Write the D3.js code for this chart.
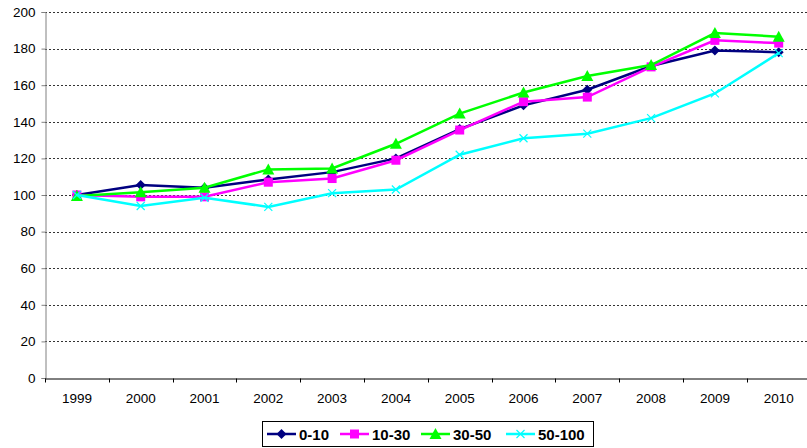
<!DOCTYPE html>
<html>
<head>
<meta charset="utf-8">
<script src="https://cdn.jsdelivr.net/npm/d3@7"></script>
<style>
  body { margin: 0; background: #fff; overflow: hidden; }
  svg { font-family: "Liberation Sans", Arial, sans-serif; display: block; }
</style>
</head>
<body>
<div id="chart"></div>
<script>
const years = ["1999","2000","2001","2002","2003","2004","2005","2006","2007","2008","2009","2010"];
const s0_10   = [100, 105.5, 104, 108.5, 112.5, 120, 136, 149, 157.5, 170.5, 179, 178];
const s10_30  = [100, 99, 99, 107, 109, 119, 135.5, 151, 153.5, 170, 184.5, 183];
const s30_50  = [99.5, 101.5, 104, 114, 114.5, 128, 144.5, 156, 165, 171, 188.5, 186.5];
const s50_100 = [100, 94, 98.5, 93.5, 101, 103, 122, 131, 133.5, 142, 155.5, 177.5];
const yTicks = [0, 20, 40, 60, 80, 100, 120, 140, 160, 180, 200];

const series = [
  {name: "0-10", values: s0_10, color: "#000080", marker: "diamond"},
  {name: "10-30", values: s10_30, color: "#ff00ff", marker: "square"},
  {name: "30-50", values: s30_50, color: "#00ff00", marker: "triangle"},
  {name: "50-100", values: s50_100, color: "#00ffff", marker: "cross"}
];

const w = 807, h = 448;
const padL = 45, padR = 810.6, padT = 12, padB = 378;

const svg = d3.select("#chart").append("svg").attr("width", w).attr("height", h);

const x = d3.scaleBand().domain(years).range([padL, padR]);
const y = d3.scaleLinear().domain([0, 200]).range([padB, padT]);

// gridlines
svg.append("g").selectAll("line")
  .data(yTicks.filter(d => d > 0))
  .enter().append("line")
  .attr("x1", padL).attr("x2", w)
  .attr("y1", d => Math.round(y(d)) + 0.5).attr("y2", d => Math.round(y(d)) + 0.5)
  .attr("stroke", "#333").attr("stroke-width", 1).attr("stroke-dasharray", "2,2");

// y axis
const yAxis = d3.axisLeft(y).tickValues(yTicks).tickSize(4).tickPadding(6);
const gy = svg.append("g").attr("transform", "translate(" + (padL + 0.5) + ",0)").call(yAxis);
gy.select(".domain").attr("stroke", "#808080");
gy.selectAll(".tick line").attr("stroke", "#808080");
gy.selectAll("text").attr("font-size", 13.5).attr("fill", "#000");

// x axis
const xAxis = d3.axisBottom(x).tickSize(0).tickPadding(15);
const gx = svg.append("g").attr("transform", "translate(0," + (Math.round(padB) + 0.5) + ")").call(xAxis);
gx.select(".domain").attr("stroke", "#000");
gx.selectAll("text").attr("font-size", 13.5).attr("fill", "#000");
gx.append("g").selectAll("line")
  .data(years)
  .enter().append("line")
  .attr("x1", d => Math.round(x(d)) + 0.5).attr("x2", d => Math.round(x(d)) + 0.5)
  .attr("y1", 0).attr("y2", 4)
  .attr("stroke", "#000");

function marker(g, type, color) {
  if (type === "diamond") {
    g.append("path").attr("d", "M0,-5L5,0L0,5L-5,0Z").attr("fill", color);
  } else if (type === "square") {
    g.append("rect").attr("x", -4.5).attr("y", -4.5).attr("width", 9).attr("height", 9).attr("fill", color);
  } else if (type === "triangle") {
    g.append("path").attr("d", "M0,-6L6,5L-6,5Z").attr("fill", color);
  } else {
    g.append("path").attr("d", "M-4,-4L4,4M-4,4L4,-4").attr("stroke", color).attr("stroke-width", 1.2).attr("fill", "none");
  }
}

const line = d3.line()
  .x((d, i) => x(years[i]) + x.bandwidth() / 2)
  .y(d => y(d));

series.forEach(s => {
  const g = svg.append("g");
  g.append("path")
    .attr("d", line(s.values))
    .attr("fill", "none")
    .attr("stroke", s.color)
    .attr("stroke-width", 2.5);
  s.values.forEach((v, i) => {
    const m = g.append("g")
      .attr("transform", "translate(" + (x(years[i]) + x.bandwidth() / 2) + "," + y(v) + ")");
    marker(m, s.marker, s.color);
  });
});

// legend
const legend = svg.append("g");
legend.append("rect")
  .attr("x", 262.5).attr("y", 421.5).attr("width", 331).attr("height", 25)
  .attr("fill", "#fff").attr("stroke", "#000").attr("stroke-width", 1);
const legX = [267, 340, 421, 506];
series.forEach((s, i) => {
  const g = legend.append("g").attr("transform", "translate(" + legX[i] + ",434)");
  g.append("line").attr("x1", 0).attr("x2", 29).attr("stroke", s.color).attr("stroke-width", 2.5);
  const m = g.append("g").attr("transform", "translate(14.5,0)");
  marker(m, s.marker, s.color);
  g.append("text").attr("x", 32).attr("y", 5.5)
    .attr("font-size", 15).attr("font-weight", "bold").text(s.name);
});
</script>
</body>
</html>
